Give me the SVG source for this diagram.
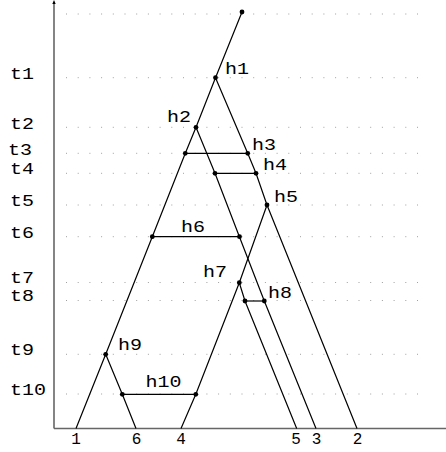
<svg xmlns="http://www.w3.org/2000/svg" width="446" height="452" viewBox="0 0 446 452">
<style>
.grid{stroke:#a0a0a0;stroke-width:1;stroke-dasharray:1 10.7}
.axis{stroke:#666;stroke-width:1.6;fill:none}
.br{stroke:#000;stroke-width:1.2;fill:none}
.dot{fill:#000}
text{font-family:"Liberation Mono","Courier New",monospace;font-size:16px;fill:#000}
</style>
<rect width="446" height="452" fill="#fff"/>
<g id="grid">
<line class="grid" x1="66" y1="14" x2="424" y2="14"/>
<line class="grid" x1="66" y1="77.7" x2="424" y2="77.7"/>
<line class="grid" x1="66" y1="127.3" x2="424" y2="127.3"/>
<line class="grid" x1="66" y1="153.3" x2="424" y2="153.3"/>
<line class="grid" x1="66" y1="173.3" x2="424" y2="173.3"/>
<line class="grid" x1="66" y1="205" x2="424" y2="205"/>
<line class="grid" x1="66" y1="236.7" x2="424" y2="236.7"/>
<line class="grid" x1="66" y1="282.5" x2="424" y2="282.5"/>
<line class="grid" x1="66" y1="300.5" x2="424" y2="300.5"/>
<line class="grid" x1="66" y1="354.3" x2="424" y2="354.3"/>
<line class="grid" x1="66" y1="394" x2="424" y2="394"/>
</g>
<g id="axes">
<line class="axis" x1="54" y1="2" x2="54" y2="428.5"/>
<line class="axis" x1="54" y1="428.5" x2="446" y2="428.5"/>
<path d="M52.3 4 L54 0 L55.7 4 Z" fill="#000"/>
</g>
<g id="timeLabels">
<text x="10" y="78.5" textLength="24" lengthAdjust="spacingAndGlyphs">t1</text>
<text x="10" y="129" textLength="24" lengthAdjust="spacingAndGlyphs">t2</text>
<text x="8" y="155" textLength="24" lengthAdjust="spacingAndGlyphs">t3</text>
<text x="10" y="173.5" textLength="24" lengthAdjust="spacingAndGlyphs">t4</text>
<text x="10" y="205.5" textLength="24" lengthAdjust="spacingAndGlyphs">t5</text>
<text x="10" y="237.5" textLength="24" lengthAdjust="spacingAndGlyphs">t6</text>
<text x="10" y="283" textLength="24" lengthAdjust="spacingAndGlyphs">t7</text>
<text x="10" y="301" textLength="24" lengthAdjust="spacingAndGlyphs">t8</text>
<text x="10" y="355" textLength="24" lengthAdjust="spacingAndGlyphs">t9</text>
<text x="10" y="394.5" textLength="36" lengthAdjust="spacingAndGlyphs">t10</text>
</g>
<g id="connectors">
<polyline class="br" points="242,12 215.5,77.7 196,127.3 185.3,153.3 152.3,236.7 105.7,354.3 76,428.5"/>
<polyline class="br" points="215.5,77.7 247.7,153.3 256,173.3 267,205 357,428.5"/>
<polyline class="br" points="196,127.3 215,173.3 239.5,237 264.3,301 316,428.5"/>
<polyline class="br" points="267,205 239.3,282.7 195.8,394.3 181,428.5"/>
<polyline class="br" points="239.3,282.7 245,301 296.7,428.5"/>
<polyline class="br" points="105.7,354.3 122.3,394.3 136,428.5"/>
<line class="br" x1="185.3" y1="153.3" x2="247.7" y2="153.3"/>
<line class="br" x1="215" y1="173.3" x2="256" y2="173.3"/>
<line class="br" x1="152.3" y1="236.7" x2="239.5" y2="236.7"/>
<line class="br" x1="245" y1="301" x2="264.3" y2="301"/>
<line class="br" x1="122.3" y1="394.3" x2="195.8" y2="394.3"/>
</g>
<g id="root"><circle class="dot" cx="242" cy="12" r="2.4"/></g>
<g id="h1"><circle class="dot" cx="215.5" cy="77.7" r="2.4"/><text x="225" y="73.5" textLength="24" lengthAdjust="spacingAndGlyphs">h1</text></g>
<g id="h2"><circle class="dot" cx="196" cy="127.3" r="2.4"/><text x="167" y="122" textLength="24" lengthAdjust="spacingAndGlyphs">h2</text></g>
<g id="h3"><circle class="dot" cx="185.3" cy="153.3" r="2.4"/><circle class="dot" cx="247.7" cy="153.3" r="2.4"/><text x="252" y="150" textLength="24" lengthAdjust="spacingAndGlyphs">h3</text></g>
<g id="h4"><circle class="dot" cx="215" cy="173.3" r="2.4"/><circle class="dot" cx="256" cy="173.3" r="2.4"/><text x="263" y="170" textLength="24" lengthAdjust="spacingAndGlyphs">h4</text></g>
<g id="h5"><circle class="dot" cx="267" cy="205" r="2.4"/><text x="274" y="201.5" textLength="24" lengthAdjust="spacingAndGlyphs">h5</text></g>
<g id="h6"><circle class="dot" cx="152.3" cy="236.7" r="2.4"/><circle class="dot" cx="239.5" cy="236.7" r="2.4"/><text x="181" y="231.5" textLength="24" lengthAdjust="spacingAndGlyphs">h6</text></g>
<g id="h7"><circle class="dot" cx="239.3" cy="282.7" r="2.4"/><text x="203" y="276.5" textLength="24" lengthAdjust="spacingAndGlyphs">h7</text></g>
<g id="h8"><circle class="dot" cx="245" cy="301" r="2.4"/><circle class="dot" cx="264.3" cy="301" r="2.4"/><text x="268" y="297.5" textLength="24" lengthAdjust="spacingAndGlyphs">h8</text></g>
<g id="h9"><circle class="dot" cx="105.7" cy="354.3" r="2.4"/><text x="118" y="349.5" textLength="24" lengthAdjust="spacingAndGlyphs">h9</text></g>
<g id="h10"><circle class="dot" cx="122.3" cy="394.3" r="2.4"/><circle class="dot" cx="195.8" cy="394.3" r="2.4"/><text x="145.5" y="387" textLength="36" lengthAdjust="spacingAndGlyphs">h10</text></g>
<g id="leaves" text-anchor="middle">
<g id="leaf1"><text x="76" y="444">1</text></g>
<g id="leaf6"><text x="136.5" y="444">6</text></g>
<g id="leaf4"><text x="181" y="444">4</text></g>
<g id="leaf5"><text x="296" y="444">5</text></g>
<g id="leaf3"><text x="316.5" y="444">3</text></g>
<g id="leaf2"><text x="357.5" y="444">2</text></g>
</g>
</svg>
